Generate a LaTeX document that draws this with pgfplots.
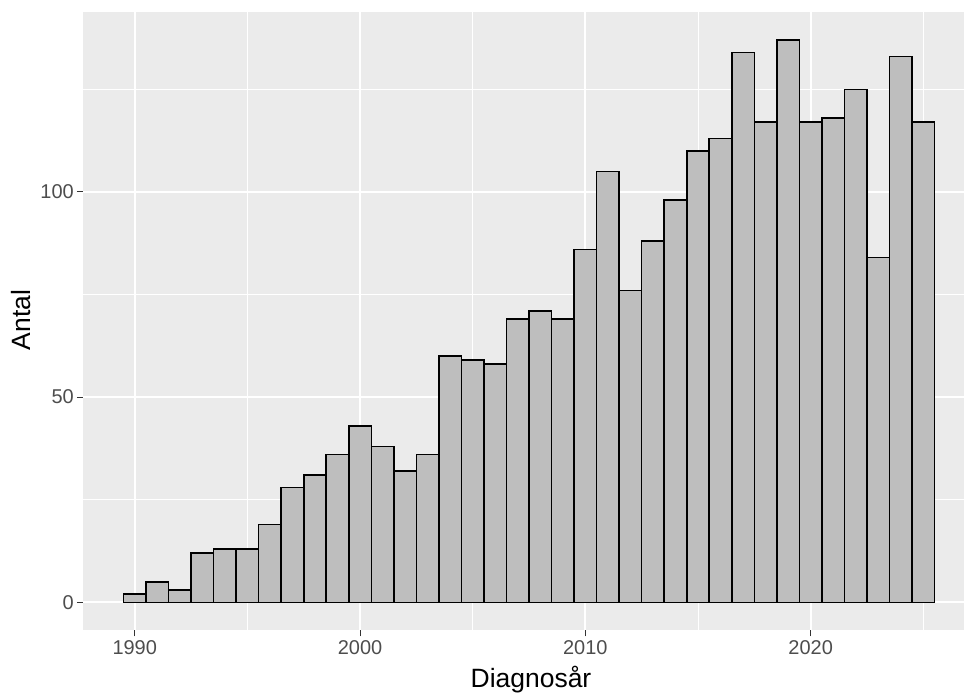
\documentclass[border=0pt]{standalone}
\usepackage{fontspec}
\setmainfont{Liberation Sans}
\usepackage{pgfplots}
\pgfplotsset{compat=1.18}
\definecolor{panelbg}{HTML}{EBEBEB}
\definecolor{barfill}{HTML}{BEBEBE}
\definecolor{ticklab}{HTML}{4D4D4D}
\definecolor{tickcol}{HTML}{333333}
\begin{document}
\begin{tikzpicture}
\begin{axis}[
  scale only axis,
  width=882pt, height=619pt,
  xmin=1987.7, xmax=2026.81,
  ymin=-6.85, ymax=143.85,
  axis line style={draw=none},
  axis background/.style={fill=panelbg},
  xtick={1990,2000,2010,2020},
  ytick={0,50,100},
  minor xtick={1995,2005,2015,2025},
  minor ytick={25,75,125},
  xtick pos=bottom,
  ytick pos=left,
  grid=both,
  major grid style={white, line width=1.8pt},
  minor grid style={white, line width=0.9pt},
  tick align=outside,
  major tick length=6pt,
  minor tick length=0pt,
  every tick/.style={tickcol, line width=1.1pt},
  tick label style={font=\fontsize{20}{22}\selectfont, text=ticklab, inner sep=0pt},
  /pgf/number format/assume math mode=true,
  /pgf/number format/1000 sep={},
  xticklabel style={anchor=north, yshift=-4pt},
  yticklabel style={anchor=east, xshift=-3pt},
  xlabel={Diagnosår},
  ylabel={Antal},
  label style={font=\fontsize{26.5}{28}\selectfont},
  xlabel style={at={(axis description cs:0.5085,0)}, anchor=base, yshift=-57pt},
  ylabel style={at={(axis description cs:-0.0593,0.502)}, anchor=base, rotate=0},
]
\addplot[ybar, bar width=1, fill=barfill, draw=black, line width=1.6pt] coordinates {
(1990,2) (1991,5) (1992,3) (1993,12) (1994,13) (1995,13) (1996,19) (1997,28)
(1998,31) (1999,36) (2000,43) (2001,38) (2002,32) (2003,36) (2004,60) (2005,59)
(2006,58) (2007,69) (2008,71) (2009,69) (2010,86) (2011,105) (2012,76) (2013,88)
(2014,98) (2015,110) (2016,113) (2017,134) (2018,117) (2019,137) (2020,117) (2021,118)
(2022,125) (2023,84) (2024,133) (2025,117)
};
\end{axis}
\path[use as bounding box] (-83pt,-60pt) rectangle (882pt,631pt);
\end{tikzpicture}
\end{document}
